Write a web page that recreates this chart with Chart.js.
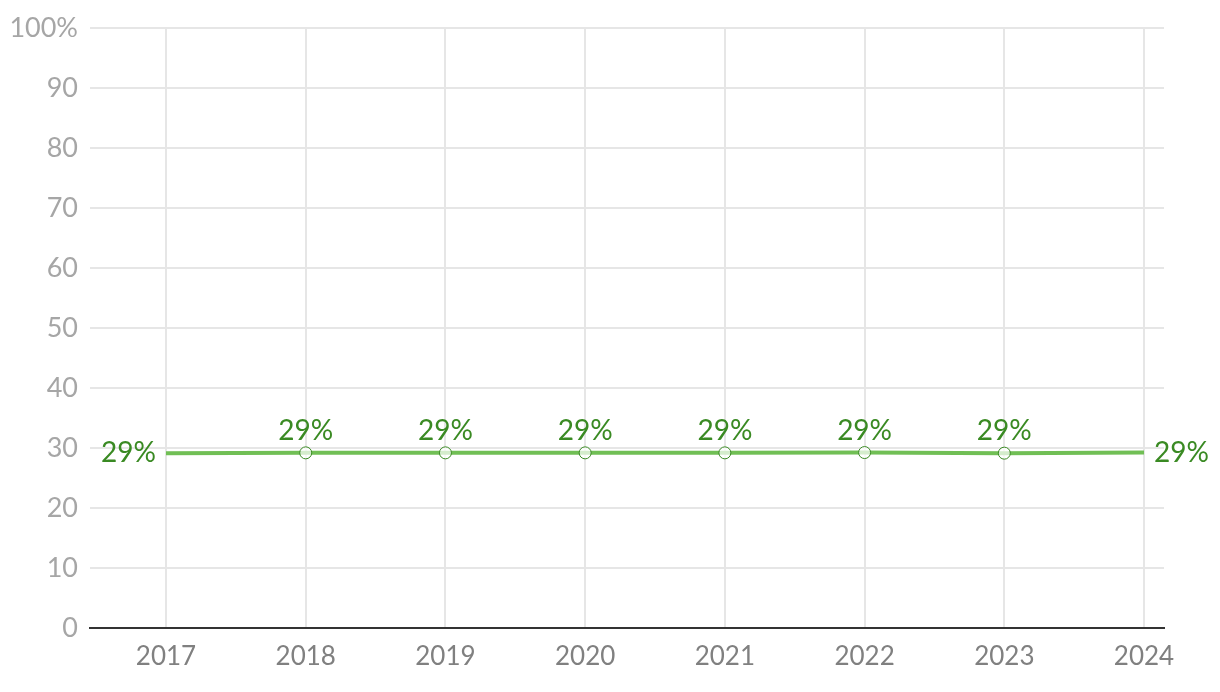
<!DOCTYPE html>
<html>
<head>
<meta charset="utf-8">
<script src="https://cdn.jsdelivr.net/npm/chart.js@4/dist/chart.umd.min.js"></script>
<style>
  html, body { margin: 0; padding: 0; background: #fff; }
  #wrap { width: 1220px; height: 692px; }
</style>
</head>
<body>
<div id="wrap"><canvas id="lineChart"></canvas></div>
<script>
const years = [2017, 2018, 2019, 2020, 2021, 2022, 2023, 2024];
const shares = [29.15, 29.2, 29.2, 29.2, 29.2, 29.25, 29.15, 29.25];
const shareLabels = ['29%', '29%', '29%', '29%', '29%', '29%', '29%', '29%'];
const yTicks = [0, 10, 20, 30, 40, 50, 60, 70, 80, 90, 100];

const fontFamily = 'Lato, "Noto Sans", sans-serif';

// draws the value labels next to each point
const valueLabels = {
    id: 'valueLabels',
    afterDatasetsDraw(chart) {
        const ctx = chart.ctx;
        const points = chart.getDatasetMeta(0).data;
        ctx.save();
        ctx.font = '28px ' + fontFamily;
        ctx.fillStyle = '#3a8a23';
        points.forEach((pt, i) => {
            if (i === 0) {
                ctx.textAlign = 'right';
                ctx.textBaseline = 'middle';
                ctx.fillText(shareLabels[i], pt.x - 10, pt.y);
            } else if (i === points.length - 1) {
                ctx.textAlign = 'left';
                ctx.textBaseline = 'middle';
                ctx.fillText(shareLabels[i], pt.x + 10, pt.y);
            } else {
                ctx.textAlign = 'center';
                ctx.textBaseline = 'alphabetic';
                ctx.fillText(shareLabels[i], pt.x, pt.y - 13);
            }
        });
        ctx.restore();
    }
};

const ctx = document.getElementById('lineChart').getContext('2d');
new Chart(ctx, {
    type: 'line',
    data: {
        datasets: [{
            data: years.map((y, i) => ({ x: y, y: shares[i] })),
            borderColor: '#71bf55',
            borderWidth: 4,
            tension: 0,
            pointRadius: years.map((y, i) => (i === 0 || i === years.length - 1) ? 0 : 6),
            pointBackgroundColor: 'rgba(255,255,255,0.7)',
            pointBorderColor: '#3a8a23',
            pointBorderWidth: 1,
            pointHoverRadius: 0
        }]
    },
    plugins: [valueLabels],
    options: {
        responsive: true,
        maintainAspectRatio: false,
        animation: false,
        events: [],
        layout: { padding: { top: 28, right: 56, left: 0, bottom: 0 } },
        plugins: {
            legend: { display: false },
            tooltip: { enabled: false }
        },
        scales: {
            x: {
                type: 'linear',
                min: 2016.456,
                max: 2024.143,
                afterBuildTicks: s => { s.ticks = years.map(v => ({ value: v })); },
                afterFit: s => { s.height = 64; },
                grid: { color: '#e6e6e6', lineWidth: 2, drawTicks: false },
                border: { display: true, color: '#333333', width: 2 },
                ticks: {
                    padding: 13,
                    color: '#808080',
                    font: { size: 26, family: fontFamily },
                    callback: v => String(v)
                }
            },
            y: {
                min: 0,
                max: 100,
                afterBuildTicks: s => { s.ticks = yTicks.map(v => ({ value: v })); },
                afterFit: s => { s.width = 90; },
                grid: { color: '#e6e6e6', lineWidth: 2, drawTicks: false },
                border: { display: false },
                ticks: {
                    padding: 12,
                    color: '#a6a6a6',
                    font: { size: 27, family: fontFamily },
                    callback: v => v === 100 ? '100%' : String(v)
                }
            }
        }
    }
});
</script>
</body>
</html>
